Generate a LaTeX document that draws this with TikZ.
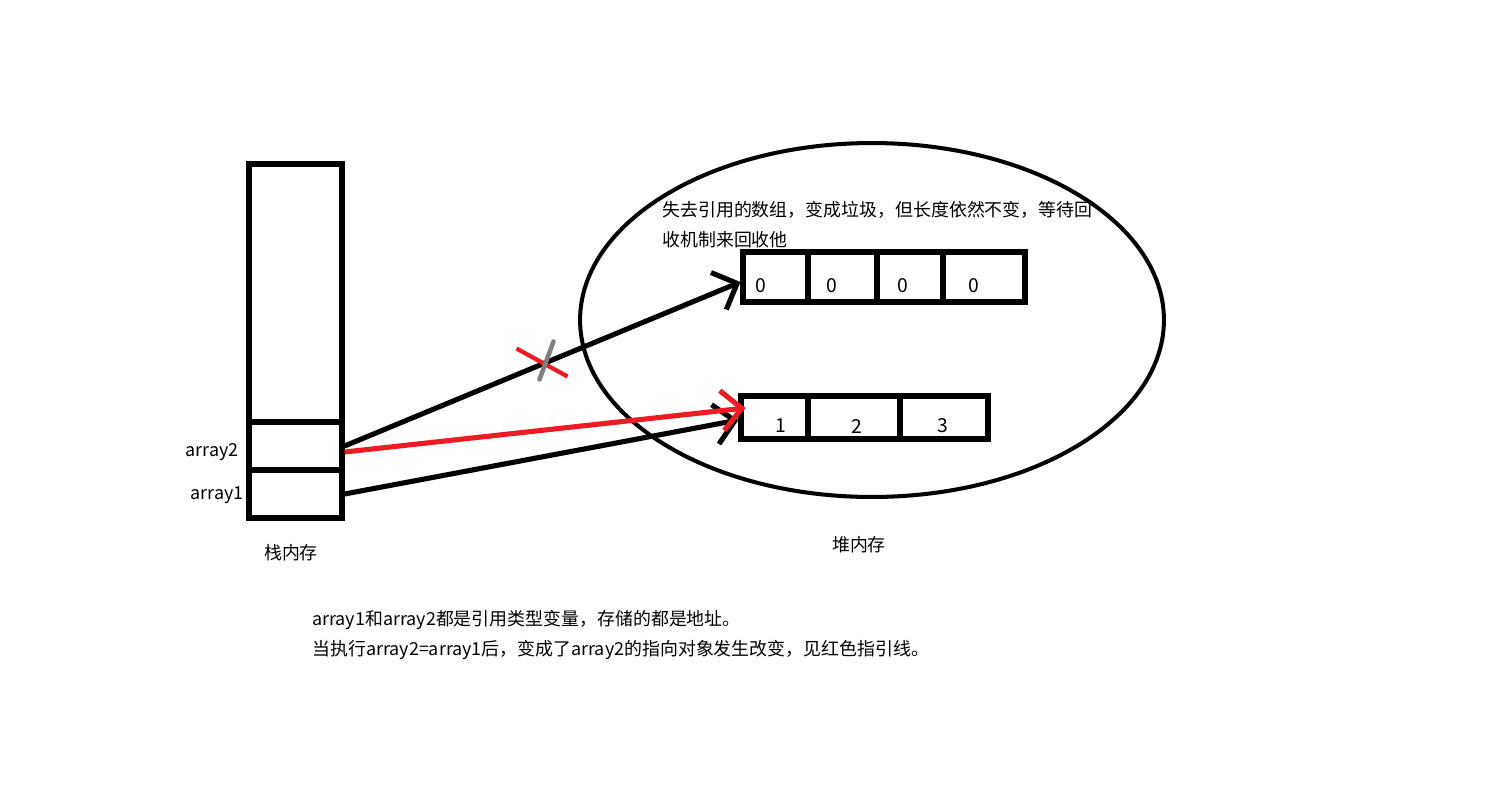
\documentclass[tikz,border=0pt]{standalone}
\usepackage{fontspec}
\usepackage{xcolor}
\usepackage{tikz}
\usetikzlibrary{shapes.geometric, arrows.meta}
\newfontfamily\cjk{Noto Sans CJK SC}
\definecolor{paintred}{RGB}{237,28,36}
\definecolor{paintgray}{RGB}{127,127,127}
\tikzstyle{cell} = [rectangle, draw=black, line width=2.9pt, inner sep=0pt]
\tikzstyle{txt} = [inner sep=0pt, font=\cjk\fontsize{10.2pt}{17pt}\selectfont]
\tikzstyle{digit} = [inner sep=0pt, font=\cjk\fontsize{11pt}{13pt}\selectfont]
\tikzstyle{arrow} = [line width=2.9pt, -{Straight Barb[length=0.4cm, width=0.8cm]}]

\begin{document}
\begin{tikzpicture}[x=0.02cm, y=-0.02cm]
    \useasboundingbox (0,0) rectangle (1497,785);
    % stack memory
    \node (stk) [cell, minimum width=1.86cm, minimum height=5.16cm] at (295.5,293) {};
    \node (a2cell) [cell, minimum width=1.86cm, minimum height=0.96cm] at (295.5,446) {};
    \node (a1cell) [cell, minimum width=1.86cm, minimum height=0.96cm] at (295.5,494) {};
    \node (a2lbl) [txt, anchor=east] at (239,452) {array2};
    \node (a1lbl) [txt, anchor=east] at (244,495) {array1};
    \node (stklbl) [txt] at (291,553) {栈内存};
    % heap memory
    \node (heap) [ellipse, draw, line width=2.3pt, minimum width=11.68cm, minimum height=7.08cm] at (872,320) {};
    \node (heaplbl) [txt] at (859,545) {堆内存};
    \node (note) [txt, anchor=west, align=left] at (662,225) {失去引用的数组，变成垃圾，但长度依然不变，等待回\\收机制来回收他};
    % old array
    \node (z1) [cell, minimum width=1.30cm, minimum height=1.0cm] at (775.5,277) {};
    \node (z2) [cell, minimum width=1.38cm, minimum height=1.0cm] at (842.5,277) {};
    \node (z3) [cell, minimum width=1.32cm, minimum height=1.0cm] at (910,277) {};
    \node (z4) [cell, minimum width=1.64cm, minimum height=1.0cm] at (984,277) {};
    \node (v1) [digit] at (761,286) {0};
    \node (v2) [digit] at (832,286) {0};
    \node (v3) [digit] at (903,286) {0};
    \node (v4) [digit] at (974,286) {0};
    % new array
    \node (o1) [cell, minimum width=1.34cm, minimum height=0.86cm] at (774.5,417.5) {};
    \node (o2) [cell, minimum width=1.84cm, minimum height=0.86cm] at (854,417.5) {};
    \node (o3) [cell, minimum width=1.76cm, minimum height=0.86cm] at (944,417.5) {};
    \node (w1) [digit] at (781,426) {1};
    \node (w2) [digit] at (857,426) {2};
    \node (w3) [digit] at (943,426) {3};
    % references
    \draw [arrow] (a2cell.east) -- coordinate[pos=0.5] (cut) ([yshift=-0.1cm]z1.west);
    \draw [arrow] (a1cell.east) -- ([yshift=-0.05cm]o1.west);
    \draw [arrow, paintred] ([yshift=-0.12cm]a2cell.east) -- ([xshift=0.14cm, yshift=0.19cm]o1.west);
    \draw [paintred, line width=2.4pt] ([shift={(-0.52cm,0.31cm)}]cut) -- ([shift={(0.5cm,-0.25cm)}]cut);
    \draw [paintgray, line width=2.6pt, line cap=round] ([shift={(0.22cm,0.45cm)}]cut) -- ([shift={(-0.06cm,-0.31cm)}]cut);
    % notes
    \node (expl) [txt, anchor=west, align=left] at (312,635) {array1和array2都是引用类型变量，存储的都是地址。\\当执行array2=array1后，变成了array2的指向对象发生改变，见红色指引线。};
\end{tikzpicture}
\end{document}
